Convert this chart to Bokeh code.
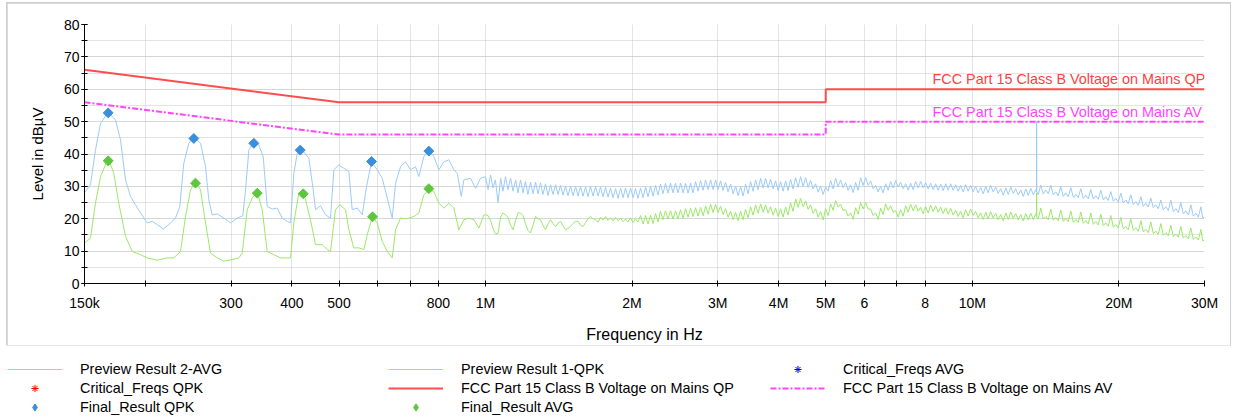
import math
from bokeh.plotting import figure
from bokeh.models import (Range1d, FixedTicker, SingleIntervalTicker, Legend,
                          LegendItem, Label, ColumnDataSource)
from bokeh.embed import file_html
from bokeh.resources import INLINE

FONT = "Liberation Sans"

# ---------------- data (frequency in MHz, level in dBuV) ----------------
# below 1 MHz: traced points of the preview sweeps
qpk_lf_freq = [0.150, 0.1543, 0.1580, 0.1618, 0.1678, 0.1737, 0.1779, 0.1821, 0.1865, 0.1909,
               0.1955, 0.2018, 0.2066, 0.2116, 0.2177, 0.2235, 0.2307, 0.2355, 0.2399, 0.2457,
               0.2516, 0.2597, 0.2659, 0.2701, 0.2745, 0.2811, 0.2900, 0.2993, 0.3089, 0.3172,
               0.3213, 0.3264, 0.3342, 0.3421, 0.3494, 0.3560, 0.3646, 0.3733, 0.3822, 0.3914,
               0.3976, 0.4038, 0.4103, 0.4202, 0.4335, 0.4426, 0.4474, 0.4581, 0.4691, 0.4803,
               0.4879, 0.4996, 0.5116, 0.5238, 0.5322, 0.5451, 0.5582, 0.5696, 0.5832, 0.5991,
               0.6135, 0.6282, 0.6432, 0.6533, 0.6690, 0.6850, 0.7014, 0.7182, 0.7295, 0.7469,
               0.7648, 0.7831, 0.8019, 0.8211, 0.8408, 0.8610, 0.8750, 0.8915, 0.9025, 0.9316,
               0.9539, 0.9767]
qpk_lf_level = [28.0, 30.5, 41.2, 49.4, 53.0, 50.5, 44.3, 32.0, 26.9, 24.3,
                21.8, 18.7, 19.2, 18.2, 16.8, 18.2, 20.2, 23.8, 37.1, 43.3,
                45.3, 43.3, 36.1, 25.8, 21.2, 21.5, 20.2, 18.7, 20.2, 20.9,
                28.9, 41.2, 43.8, 42.8, 39.2, 23.8, 23.0, 23.3, 20.2, 19.2,
                18.7, 34.0, 40.2, 41.2, 38.7, 28.9, 22.8, 24.0, 21.2, 20.2,
                35.1, 36.6, 35.6, 34.6, 22.8, 23.3, 21.2, 30.0, 37.6, 35.1,
                32.5, 26.4, 20.2, 31.0, 36.1, 37.6, 35.1, 36.1, 33.0, 39.2,
                41.2, 39.2, 35.1, 37.6, 38.2, 35.1, 34.0, 26.9, 32.0, 32.5,
                29.4, 32.5]

avg_lf_freq = [0.150, 0.1543, 0.1580, 0.1618, 0.1678, 0.1723, 0.1764, 0.1821, 0.1880, 0.1955,
               0.2018, 0.2116, 0.2218, 0.2289, 0.2362, 0.2419, 0.2477, 0.2536, 0.2597, 0.2659,
               0.2723, 0.2811, 0.2900, 0.3017, 0.3112, 0.3163, 0.3239, 0.3316, 0.3396, 0.3477,
               0.3560, 0.3674, 0.3792, 0.3976, 0.4038, 0.4134, 0.4233, 0.4369, 0.4474, 0.4618,
               0.4729, 0.4803, 0.4918, 0.5020, 0.5157, 0.5238, 0.5363, 0.5492, 0.5624, 0.5715,
               0.5860, 0.5991, 0.6135, 0.6282, 0.6432, 0.6533, 0.6690, 0.6904, 0.7124, 0.7295,
               0.7469, 0.7648, 0.7831, 0.8019, 0.8211, 0.8408, 0.8610, 0.8812, 0.9025, 0.9244,
               0.9466, 0.9693, 0.9923]
avg_lf_level = [12.5, 14.0, 24.8, 33.0, 38.7, 34.0, 24.8, 14.6, 9.9, 8.9,
                7.9, 7.2, 7.9, 7.9, 9.9, 20.7, 28.9, 31.5, 28.9, 18.7,
                9.4, 7.9, 6.9, 7.4, 7.9, 9.4, 22.8, 26.4, 28.4, 22.8,
                9.9, 8.9, 7.9, 7.9, 18.7, 27.9, 27.9, 19.7, 12.0, 12.0,
                10.5, 9.9, 22.8, 24.3, 22.8, 16.6, 11.0, 11.0, 10.5, 15.1,
                20.7, 18.7, 13.0, 9.9, 7.9, 16.6, 20.2, 20.0, 20.7, 21.8,
                27.4, 28.9, 28.4, 24.8, 23.3, 24.8, 23.3, 16.6, 19.7, 20.2,
                19.7, 17.1, 21.2]

# above 1 MHz: the noisy band, read as band tops (hf_top_freq) and band bottoms (hf_bottom_freq)
hf_top_freq = [1.000, 1.024, 1.048, 1.074, 1.099, 1.126, 1.153, 1.180, 1.208, 1.237,
               1.267, 1.297, 1.328, 1.360, 1.393, 1.426, 1.460, 1.495, 1.531, 1.567,
               1.605, 1.643, 1.683, 1.723, 1.764, 1.806, 1.850, 1.894, 1.939, 1.986,
               2.033, 2.082, 2.132, 2.183, 2.235, 2.288, 2.343, 2.399, 2.457, 2.516,
               2.576, 2.638, 2.701, 2.766, 2.832, 2.900, 2.969, 3.040, 3.113, 3.188,
               3.264, 3.342, 3.422, 3.504, 3.588, 3.674, 3.762, 3.852, 3.944, 4.039,
               4.135, 4.234, 4.336, 4.439, 4.546, 4.655, 4.766, 4.880, 4.997, 5.117,
               5.239, 5.365, 5.493, 5.625, 5.759, 5.897, 6.039, 6.183, 6.331, 6.483,
               6.638, 6.797, 6.960, 7.126, 7.297, 7.472, 7.651, 7.834, 8.021, 8.213,
               8.410, 8.611, 8.817, 9.028, 9.244, 9.465, 9.692, 9.924, 10.16, 10.41,
               10.66, 10.91, 11.17, 11.44, 11.72, 12.00, 12.28, 12.58, 12.88, 13.19,
               13.50, 13.555, 13.56, 13.565,
               13.83, 14.16, 14.50, 14.84, 15.20, 15.56, 15.94, 16.32, 16.71, 17.11,
               17.52, 17.94, 18.37, 18.81, 19.26, 19.72, 20.19, 20.68, 21.17, 21.68,
               22.20, 22.73, 23.27, 23.83, 24.40, 24.99, 25.58, 26.20, 26.82, 27.47,
               28.12, 28.80, 29.49, 30.00]
qpk_hf_top = [33.0, 33.5, 32.0, 32.5, 33.0, 32.5, 32.0, 32.0, 31.5, 31.3,
              31.3, 31.1, 30.8, 30.5, 30.5, 30.3, 30.1, 30.1, 30.0, 30.0,
              29.8, 30.0, 30.0, 29.8, 29.7, 29.5, 29.3, 29.5, 29.5, 29.5,
              29.3, 29.5, 29.8, 30.0, 30.3, 30.7, 30.9, 31.0, 31.0, 31.0,
              30.9, 31.0, 31.5, 31.8, 32.0, 32.0, 32.0, 31.7, 31.3, 30.7,
              30.1, 30.0, 30.7, 31.5, 32.0, 32.5, 32.5, 32.2, 31.7, 31.5,
              31.7, 32.2, 32.7, 33.0, 32.7, 31.8, 30.8, 30.1, 29.8, 31.8,
              32.5, 32.0, 31.2, 30.5, 31.2, 32.7, 32.7, 31.7, 30.3, 30.0,
              30.8, 31.5, 31.8, 31.3, 30.8, 31.0, 31.5, 31.5, 31.2, 31.0,
              30.8, 30.7, 30.8, 30.8, 30.5, 30.3, 30.5, 30.3, 30.0, 29.7,
              30.0, 30.3, 29.8, 29.3, 29.5, 29.8, 29.3, 28.9, 29.2, 29.4,
              29.0, 28.4, 50.2, 28.4,
              30.4, 28.9, 30.4, 28.3, 29.9, 28.0, 29.6, 27.6, 29.3, 27.3,
              29.0, 27.1, 28.8, 26.8, 28.4, 26.3, 27.9, 25.8, 27.4, 25.3,
              26.8, 24.8, 26.4, 24.3, 25.8, 23.7, 25.7, 23.1, 25.0, 22.4,
              24.3, 21.7, 23.7, 20.5]
avg_hf_top = [21.2, 19.5, 15.3, 20.5, 21.2, 18.0, 19.5, 21.8, 18.5, 15.6,
              20.7, 19.7, 16.6, 19.7, 17.6, 19.2, 16.6, 17.6, 19.2, 18.0,
              18.8, 20.7, 19.7, 20.5, 20.7, 20.3, 20.4, 20.2, 19.9, 20.3,
              20.0, 21.0, 21.0, 21.1, 21.6, 22.3, 22.5, 22.5, 22.5, 22.8,
              23.1, 23.3, 23.4, 23.5, 24.0, 24.5, 24.5, 23.9, 23.1, 22.3,
              22.0, 22.3, 22.9, 23.7, 24.3, 24.6, 24.3, 23.7, 23.3, 23.1,
              23.7, 24.9, 26.1, 26.3, 25.5, 24.3, 23.1, 22.2, 23.1, 24.6,
              25.6, 24.5, 22.8, 21.8, 23.4, 25.0, 25.0, 23.0, 21.8, 23.3,
              24.6, 24.0, 22.5, 22.8, 24.0, 24.5, 24.3, 23.5, 23.8, 24.2,
              24.0, 23.6, 23.4, 23.2, 22.7, 22.3, 22.8, 23.0, 22.3, 21.8,
              22.0, 22.2, 21.7, 21.3, 21.8, 22.1, 21.6, 21.3, 21.6, 21.7,
              21.5, 20.6, 28.0, 20.6,
              23.3, 20.7, 23.0, 20.4, 22.7, 20.1, 22.4, 19.7, 22.1, 19.4,
              21.8, 19.1, 21.4, 18.7, 21.0, 18.2, 20.4, 17.6, 19.9, 17.2,
              19.4, 16.7, 19.0, 16.2, 18.5, 15.7, 18.0, 15.3, 17.6, 14.8,
              17.1, 14.4, 16.7, 13.4]

hf_bottom_freq = [1.012, 1.036, 1.061, 1.086, 1.112, 1.139, 1.166, 1.194, 1.222, 1.252,
                  1.282, 1.312, 1.344, 1.376, 1.409, 1.443, 1.477, 1.513, 1.549, 1.586,
                  1.624, 1.663, 1.703, 1.743, 1.785, 1.828, 1.872, 1.917, 1.962, 2.010,
                  2.057, 2.107, 2.157, 2.209, 2.262, 2.315, 2.371, 2.428, 2.486, 2.546,
                  2.607, 2.669, 2.733, 2.799, 2.866, 2.935, 3.004, 3.076, 3.150, 3.226,
                  3.303, 3.382, 3.463, 3.546, 3.631, 3.718, 3.807, 3.898, 3.991, 4.087,
                  4.184, 4.284, 4.388, 4.492, 4.600, 4.710, 4.823, 4.938, 5.056, 5.178,
                  5.301, 5.429, 5.558, 5.692, 5.828, 5.967, 6.111, 6.257, 6.406, 6.560,
                  6.717, 6.878, 7.043, 7.211, 7.384, 7.561, 7.742, 7.927, 8.116, 8.311,
                  8.510, 8.713, 8.922, 9.135, 9.354, 9.578, 9.807, 10.04, 10.28, 10.53,
                  10.78, 11.04, 11.30, 11.58, 11.86, 12.14, 12.43, 12.73, 13.03, 13.35,
                  13.66, 13.99, 14.33, 14.67, 15.02, 15.38, 15.75, 16.13, 16.51, 16.91,
                  17.31, 17.73, 18.15, 18.59, 19.03, 19.49, 19.95, 20.43, 20.92, 21.42,
                  21.94, 22.46, 23.00, 23.55, 24.11, 24.69, 25.28, 25.89, 26.51, 27.14,
                  27.80, 28.46, 29.14, 29.75]
qpk_hf_bottom = [29.0, 29.5, 25.0, 28.5, 29.0, 28.5, 28.0, 28.0, 27.5, 27.7,
                 27.7, 27.5, 27.2, 27.5, 27.5, 27.3, 27.1, 27.1, 27.0, 27.0,
                 26.8, 27.0, 27.0, 26.8, 26.7, 26.5, 26.3, 26.5, 26.5, 26.5,
                 26.3, 26.5, 26.8, 27.0, 27.3, 27.7, 27.9, 28.0, 28.0, 28.0,
                 27.9, 28.0, 28.5, 28.8, 29.0, 29.0, 29.0, 28.7, 28.3, 27.7,
                 27.1, 27.0, 27.7, 28.5, 29.0, 29.5, 29.5, 29.2, 28.7, 28.5,
                 28.7, 29.2, 29.7, 30.0, 29.7, 29.2, 28.2, 27.5, 28.5, 29.2,
                 29.9, 29.6, 28.8, 28.1, 28.8, 30.3, 30.3, 29.3, 28.3, 28.0,
                 28.8, 29.5, 29.8, 29.3, 28.8, 29.0, 29.5, 29.5, 29.2, 29.0,
                 28.8, 28.7, 28.8, 28.8, 28.5, 28.3, 28.5, 28.3, 28.0, 27.7,
                 28.0, 28.3, 27.8, 27.3, 27.5, 27.8, 27.3, 26.9, 27.2, 27.4,
                 27.5, 27.6, 27.7, 27.4, 27.1, 26.9, 26.8, 26.6, 26.5, 26.3,
                 26.2, 26.1, 26.0, 25.8, 25.6, 25.4, 25.1, 24.9, 24.6, 24.4,
                 24.1, 23.8, 23.6, 23.4, 23.1, 22.8, 22.5, 22.2, 21.9, 21.5,
                 21.2, 20.8, 20.5, 20.3]
avg_hf_bottom = [21.0, 17.0, 15.5, 21.8, 20.5, 16.6, 21.8, 21.0, 16.4, 18.0,
                 20.0, 18.0, 18.5, 18.5, 18.6, 17.8, 17.0, 18.6, 19.2, 17.6,
                 20.0, 20.0, 18.9, 19.6, 19.5, 19.3, 19.4, 19.1, 19.0, 18.8,
                 19.0, 18.4, 18.4, 18.5, 19.0, 19.7, 19.9, 19.9, 19.9, 20.2,
                 20.5, 20.7, 20.8, 20.9, 21.4, 21.9, 21.9, 21.3, 20.5, 19.7,
                 19.4, 19.7, 20.3, 21.1, 21.7, 22.0, 21.7, 21.1, 20.7, 20.5,
                 21.1, 22.3, 23.5, 23.7, 22.9, 21.7, 20.5, 19.6, 21.0, 22.6,
                 23.6, 22.5, 20.8, 19.8, 21.4, 23.0, 23.0, 21.0, 19.8, 21.3,
                 22.6, 22.0, 20.5, 20.8, 22.0, 22.5, 22.3, 21.5, 21.8, 22.2,
                 22.0, 21.6, 21.4, 21.2, 20.7, 20.3, 20.8, 21.0, 20.3, 19.8,
                 20.0, 20.2, 19.7, 19.3, 19.8, 20.1, 19.6, 19.3, 19.6, 19.7,
                 19.9, 19.9, 19.7, 19.5, 19.4, 19.2, 19.1, 18.9, 18.8, 18.6,
                 18.4, 18.3, 18.1, 17.9, 17.7, 17.4, 17.2, 16.9, 16.6, 16.4,
                 16.1, 15.9, 15.7, 15.4, 15.2, 14.9, 14.7, 14.5, 14.3, 14.0,
                 13.8, 13.6, 13.4, 13.2]

final_qpk_freq = [0.1678, 0.2516, 0.3342, 0.4162, 0.5832, 0.7648]
final_qpk_level = [52.7, 44.8, 43.3, 41.2, 37.7, 40.9]
final_avg_freq = [0.1678, 0.2536, 0.3396, 0.4222, 0.5860, 0.7648]
final_avg_level = [37.9, 31.0, 27.9, 27.7, 20.6, 29.3]

# critical frequencies coincide with the final measurements (hidden under them)
crit_qpk_freq = [0.1678, 0.2516, 0.3342, 0.4162, 0.5832, 0.7648]
crit_qpk_level = [52.7, 44.8, 43.3, 41.2, 37.7, 40.9]
crit_avg_freq = [0.1678, 0.2536, 0.3396, 0.4222, 0.5860, 0.7648]
crit_avg_level = [37.9, 31.0, 27.9, 27.7, 20.6, 29.3]

limit_freq = [0.15, 0.5, 0.5, 5.0, 5.0, 30.0]
limit_qp = [66, 56, 56, 56, 60, 60]
limit_av = [56, 46, 46, 46, 50, 50]

x_ticks = [0.15, 0.2, 0.3, 0.4, 0.5, 0.6, 0.7, 0.8, 1.0, 2.0, 3.0, 4.0, 5.0, 6.0, 7.0, 8.0, 10.0, 20.0, 30.0]
x_tick_labels = ["150k", "", "300", "400", "500", "", "", "800", "1M", "2M", "3M", "4M", "5M",
                 "6", "", "8", "10M", "20M", "30M"]


def sweep(lf_f, lf_v, top_v, bottom_v):
    pts = list(zip(lf_f, lf_v)) + sorted(list(zip(hf_top_freq, top_v)) +
                                         list(zip(hf_bottom_freq, bottom_v)))
    return dict(f=[a for a, _ in pts], v=[b for _, b in pts])


src_avg = ColumnDataSource(sweep(avg_lf_freq, avg_lf_level, avg_hf_top, avg_hf_bottom))
src_qpk = ColumnDataSource(sweep(qpk_lf_freq, qpk_lf_level, qpk_hf_top, qpk_hf_bottom))
src_lim = ColumnDataSource(dict(f=limit_freq, qp=limit_qp, av=limit_av))
src_fq = ColumnDataSource(dict(f=final_qpk_freq, v=final_qpk_level))
src_fa = ColumnDataSource(dict(f=final_avg_freq, v=final_avg_level))
src_cq = ColumnDataSource(dict(f=crit_qpk_freq, v=crit_qpk_level))
src_ca = ColumnDataSource(dict(f=crit_avg_freq, v=crit_avg_level))

# styles
C_AVG = "#9be868"
C_QPK = "#9ccbf7"
C_QP = "#ff4d4d"
C_AV = "#ff44ff"
C_FQ = "#3a8fdc"
C_FA = "#5cc63c"
GRID = "#c8c8c8"
AV_DASH = "6 2 2 2"


def add_series(fig, legend_strip=False):
    r = {}
    r["avg"] = fig.line("f", "v", source=src_avg, line_color=C_AVG, line_width=1)
    r["qpk"] = fig.line("f", "v", source=src_qpk, line_color=C_QPK, line_width=1)
    r["ca"] = fig.scatter("f", "v", source=src_ca, marker="asterisk", size=6,
                          line_color="#0000ff", line_width=1)
    r["cq"] = fig.scatter("f", "v", source=src_cq, marker="asterisk", size=6,
                          line_color="#ff0000", line_width=1)
    r["qp"] = fig.line("f", "qp", source=src_lim, line_color=C_QP, line_width=2)
    r["av"] = fig.line("f", "av", source=src_lim, line_color=C_AV, line_width=2, line_dash=AV_DASH)
    if legend_strip:
        mk = dict(marker="diamond", size=12)
    else:
        mk = dict(marker="square", angle=math.pi / 4, size=7)
    r["fq"] = fig.scatter("f", "v", source=src_fq, fill_color=C_FQ, line_color=C_FQ, **mk)
    r["fa"] = fig.scatter("f", "v", source=src_fa, fill_color=C_FA, line_color=C_FA, **mk)
    return r


# ---------------- main figure ----------------
p = figure(width=1223, height=342, output_backend="svg", toolbar_location=None,
           x_axis_type="log", x_range=Range1d(0.15, 30), y_range=Range1d(0, 80),
           min_border_left=77, min_border_right=26, min_border_top=21, min_border_bottom=61,
           margin=(3, 3, 0, 7),
           styles={"outline": "2px solid #cfcfcf", "outline-offset": "-1px"})
p.outline_line_color = None
p.background_fill_color = "white"
p.border_fill_color = "white"

xa = p.xaxis[0]
xa.ticker = FixedTicker(ticks=x_ticks, minor_ticks=[])
xa.major_label_overrides = {t: lab for t, lab in zip(x_ticks, x_tick_labels)}
ya = p.yaxis[0]
ya.ticker = SingleIntervalTicker(interval=10, num_minor_ticks=2)

for ax in (xa, ya):
    ax.axis_line_color = "black"
    ax.major_tick_line_color = "black"
    ax.minor_tick_line_color = "black"
    ax.major_tick_in = 3
    ax.major_tick_out = 3
    ax.minor_tick_in = 3
    ax.minor_tick_out = 3
    ax.major_label_text_font = FONT
    ax.major_label_text_font_size = "14px"
    ax.major_label_text_color = "black"
    ax.axis_label_text_font = FONT
    ax.axis_label_text_font_style = "normal"
    ax.axis_label_text_color = "black"
xa.axis_label = "Frequency in Hz"
xa.axis_label_text_font_size = "16px"
xa.major_label_standoff = 8
xa.axis_label_standoff = 12
ya.axis_label = "Level in dBµV"
ya.axis_label_text_font_size = "15px"
ya.major_label_standoff = 2
ya.axis_label_standoff = 15

for g in (p.xgrid[0], p.ygrid[0]):
    g.grid_line_color = GRID
    g.grid_line_dash = "1 1"
    g.grid_line_width = 1
p.ygrid[0].minor_grid_line_color = GRID
p.ygrid[0].minor_grid_line_dash = "1 1"

add_series(p)

p.add_layout(Label(x=848, y=60, x_units="screen", y_units="data", y_offset=10,
                   text="FCC Part 15 Class B Voltage on Mains QP", text_color="#ff4040",
                   text_font=FONT, text_font_size="14.4px", text_baseline="middle"))
p.add_layout(Label(x=848, y=50, x_units="screen", y_units="data", y_offset=10,
                   text="FCC Part 15 Class B Voltage on Mains AV", text_color=C_AV,
                   text_font=FONT, text_font_size="14.4px", text_baseline="middle"))

# ---------------- legend strip (same series, its view range shows none of them) ----------------
q = figure(width=1233, height=72, output_backend="svg", toolbar_location=None,
           x_range=Range1d(0, 1), y_range=Range1d(0, 1),
           min_border_left=0, min_border_right=0, min_border_top=0, min_border_bottom=0,
           x_axis_location=None, y_axis_location=None)
q.grid.visible = False
q.outline_line_color = None
q.background_fill_color = "white"
q.border_fill_color = "white"
lr = add_series(q, legend_strip=True)


def make_legend(items, x, y):
    q.add_layout(Legend(items=items, location=(x, y),
                        orientation="vertical", padding=0, margin=0, spacing=1,
                        glyph_width=55, glyph_height=18, label_height=18, label_standoff=18,
                        border_line_alpha=0, background_fill_alpha=0,
                        label_text_font=FONT, label_text_font_size="14.4px",
                        label_text_color="black"))


make_legend([LegendItem(label="Preview Result 2-AVG", renderers=[lr["avg"]]),
             LegendItem(label="Critical_Freqs QPK", renderers=[lr["cq"]]),
             LegendItem(label="Final_Result QPK", renderers=[lr["fq"]])], 7, 1)
make_legend([LegendItem(label="Preview Result 1-QPK", renderers=[lr["qpk"]]),
             LegendItem(label="FCC Part 15 Class B Voltage on Mains QP", renderers=[lr["qp"]]),
             LegendItem(label="Final_Result AVG", renderers=[lr["fa"]])], 388, 1)
make_legend([LegendItem(label="Critical_Freqs AVG", renderers=[lr["ca"]]),
             LegendItem(label="FCC Part 15 Class B Voltage on Mains AV", renderers=[lr["av"]])], 770, 20)

open("out.html", "w").write(file_html([p, q], INLINE))
